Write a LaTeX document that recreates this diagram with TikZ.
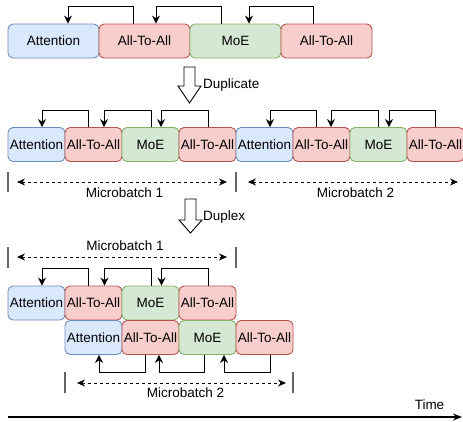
\documentclass[tikz,border=0pt]{standalone}
\usepackage{fontspec}
\setmainfont{Liberation Sans}
\usepackage{xcolor}
\usepackage{tikz}
\usetikzlibrary{arrows.meta,calc}
\definecolor{attnfill}{HTML}{DAE8FC}
\definecolor{attnline}{HTML}{6C8EBF}
\definecolor{commfill}{HTML}{F8CECC}
\definecolor{commline}{HTML}{B85450}
\definecolor{moefill}{HTML}{D5E8D4}
\definecolor{moeline}{HTML}{82B366}
\definecolor{tickgray}{HTML}{666666}

\begin{document}
\begin{tikzpicture}[
  x=1pt,y=-1pt,
  font=\fontsize{13.5pt}{16pt}\selectfont,
  blk/.style={rounded corners=5pt,inner sep=0pt,line width=0.9pt,
              minimum height=34pt,align=center},
  wide/.style={blk,minimum width=91pt},
  slim/.style={blk,minimum width=57pt},
  attn/.style={draw=attnline,fill=attnfill},
  comm/.style={draw=commline,fill=commfill},
  moe/.style={draw=moeline,fill=moefill},
  hop/.style={-{Stealth[length=8pt,width=8pt]},draw=black,line width=1pt},
  span/.style={{Stealth[length=8pt,width=7pt]}-{Stealth[length=8pt,width=7pt]},
               dash pattern=on 3pt off 3pt,line width=0.9pt},
  tickmark/.style={draw=tickgray,line width=1.5pt},
  blockarr/.style={draw=black,fill=white,line width=0.9pt,line join=miter},
  timeline/.style={-{Stealth[length=9pt,width=7pt]},line width=1.3pt},
]
\useasboundingbox (0,0) rectangle (463,421);

% Original sequence
\node[wide,attn] (t1) at (53.5,41) {Attention};
\node[wide,comm] (t2) at (144.5,41) {All-To-All};
\node[wide,moe]  (t3) at (235.5,41) {MoE};
\node[wide,comm] (t4) at (326.5,41) {All-To-All};

\draw[hop] ([xshift=-11.5pt]t2.north) -- ++(0pt,17pt) -| ([xshift=14.5pt]t1.north);
\draw[hop] ([xshift=-14.5pt]t3.north) -- ++(0pt,17pt) -| ([xshift=11.5pt]t2.north);
\draw[hop] ([xshift=-13.5pt]t4.north) -- ++(0pt,17pt) -| ([xshift=13.5pt]t3.north);

% Duplicate step
\draw[blockarr] (184,67) -- (195,67) -- (195,86) -- (201,86) -- (189.5,103)
                -- (178,86) -- (184,86) -- cycle;
\node[anchor=west,inner sep=0pt] (dup) at (203,85) {Duplicate};

% Two microbatches one after the other
\node[slim,attn] (a1) at (36.5,144.5) {Attention};
\node[slim,comm] (a2) at (93.5,144.5) {All-To-All};
\node[slim,moe]  (a3) at (150.5,144.5) {MoE};
\node[slim,comm] (a4) at (207.5,144.5) {All-To-All};
\node[slim,attn] (b1) at (264.5,144.5) {Attention};
\node[slim,comm] (b2) at (321.5,144.5) {All-To-All};
\node[slim,moe]  (b3) at (378.5,144.5) {MoE};
\node[slim,comm] (b4) at (435.5,144.5) {All-To-All};

\draw[hop] ([xshift=-5.5pt]a2.north) -- ++(0pt,17pt) -| ([xshift=5.5pt]a1.north);
\draw[hop] ([xshift=0.5pt]a3.north) -- ++(0pt,17pt) -| ([xshift=10.5pt]a2.north);
\draw[hop] ([xshift=0.5pt]a4.north) -- ++(0pt,17pt) -| ([xshift=10.5pt]a3.north);
\draw[hop] ([xshift=-5.5pt]b2.north) -- ++(0pt,17pt) -| ([xshift=5.5pt]b1.north);
\draw[hop] ([xshift=-0.5pt]b3.north) -- ++(0pt,17pt) -| ([xshift=9.5pt]b2.north);
\draw[hop] ([xshift=-0.5pt]b4.north) -- ++(0pt,17pt) -| ([xshift=10.5pt]b3.north);

% Microbatch spans
\draw[tickmark] (8,172) -- (8,192);
\draw[tickmark] (236,172) -- (236,192);
\coordinate (m1l) at (17,182);
\coordinate (m1r) at (227,182);
\coordinate (m2l) at (248,182);
\coordinate (m2r) at (458,182);
\draw[span] (m1l) -- (m1r);
\draw[span] (m2l) -- (m2r);
\node (m1) at (124.5,193) {Microbatch 1};
\node (m2) at (355.5,193) {Microbatch 2};

% Duplex step
\draw[blockarr] (185,199) -- (196,199) -- (196,220) -- (202,220) -- (190.5,233)
                -- (179,220) -- (185,220) -- cycle;
\node[anchor=west,inner sep=0pt] (dpx) at (203,217) {Duplex};

% Overlapped microbatches
\node (p1lbl) at (125,246) {Microbatch 1};
\draw[tickmark] (8,247) -- (8,268);
\draw[tickmark] (236,247) -- (236,268);
\coordinate (p1l) at (17,257);
\coordinate (p1r) at (227,257);
\draw[span] (p1l) -- (p1r);

\node[slim,attn] (p1) at (36.5,303) {Attention};
\node[slim,comm] (p2) at (93.5,303) {All-To-All};
\node[slim,moe]  (p3) at (150.5,303) {MoE};
\node[slim,comm] (p4) at (207.5,303) {All-To-All};
\node[slim,attn] (q1) at (93.5,337.5) {Attention};
\node[slim,comm] (q2) at (150.5,337.5) {All-To-All};
\node[slim,moe]  (q3) at (207.5,337.5) {MoE};
\node[slim,comm] (q4) at (264.5,337.5) {All-To-All};

\draw[hop] ([xshift=-5.5pt]p2.north) -- ++(0pt,17pt) -| ([xshift=5.5pt]p1.north);
\draw[hop] ([xshift=0.5pt]p3.north) -- ++(0pt,17pt) -| ([xshift=11pt]p2.north);
\draw[hop] ([xshift=0.5pt]p4.north) -- ++(0pt,17pt) -| ([xshift=11pt]p3.north);
\draw[hop] ([xshift=-5.5pt]q2.south) -- ++(0pt,-18pt) -| ([xshift=5.5pt]q1.south);
\draw[hop] ([xshift=-3.5pt]q3.south) -- ++(0pt,-18pt) -| ([xshift=8.5pt]q2.south);
\draw[hop] ([xshift=5.5pt]q4.south) -- ++(0pt,-18pt) -| ([xshift=16.5pt]q3.south);

\draw[tickmark] (65,372) -- (65,393);
\draw[tickmark] (293,372) -- (293,393);
\coordinate (q1l) at (77,383);
\coordinate (q1r) at (286,383);
\draw[span] (q1l) -- (q1r);
\node (q1lbl) at (185.5,393) {Microbatch 2};

% Time axis
\coordinate (tstart) at (8,417);
\coordinate (tend) at (462,417);
\draw[timeline] (tstart) -- (tend);
\node (time) at (429.5,405) {Time};
\end{tikzpicture}
\end{document}
